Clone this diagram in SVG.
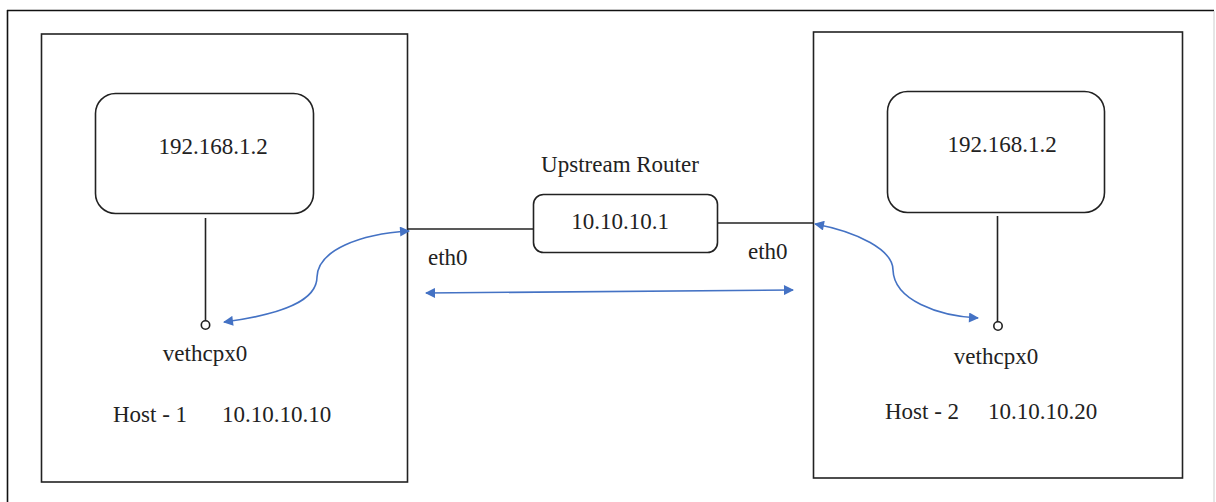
<svg xmlns="http://www.w3.org/2000/svg" width="1216" height="502" viewBox="0 0 1216 502">
<style>
.box{fill:#fff;stroke:#222;stroke-width:1.6}
.ln{fill:none;stroke:#222;stroke-width:1.6}
.blue{fill:none;stroke:#4472C4;stroke-width:1.6}
text{font-family:"Liberation Serif","Times New Roman",serif;font-size:23px;fill:#222}
.c{text-anchor:middle}
</style>
<defs>
<marker id="ah" viewBox="0 0 10 10" refX="9" refY="5" markerWidth="14" markerHeight="10" markerUnits="userSpaceOnUse" orient="auto-start-reverse">
<path d="M0,0 L10,5 L0,10 z" fill="#4472C4"/>
</marker>
</defs>
<rect width="1216" height="502" fill="#fff"/>
<g id="frame">
<line x1="7.5" y1="10" x2="7.5" y2="502" stroke="#111" stroke-width="1.6"/>
<line x1="7" y1="10.5" x2="1214" y2="10.5" stroke="#111" stroke-width="1.6"/>
<line x1="1214" y1="11" x2="1214" y2="502" stroke="#ccc" stroke-width="1"/>
</g>
<g id="host1">
<rect class="box" x="41.5" y="34" width="366" height="448"/>
<text x="113" y="422">Host - 1</text>
<text x="222" y="422">10.10.10.10</text>
</g>
<g id="container1">
<rect class="box" x="95.5" y="93.5" width="218" height="120" rx="20"/>
<text class="c" x="213" y="154">192.168.1.2</text>
</g>
<g id="veth1">
<circle cx="205.5" cy="325" r="4.2" fill="#fff" stroke="#222" stroke-width="1.6"/>
<text class="c" x="205" y="361">vethcpx0</text>
</g>
<g id="host2">
<rect class="box" x="813.5" y="32" width="369" height="446"/>
<text x="885" y="419">Host - 2</text>
<text x="988" y="419">10.10.10.20</text>
</g>
<g id="container2">
<rect class="box" x="887.5" y="91.5" width="217" height="121" rx="20"/>
<text class="c" x="1002" y="152">192.168.1.2</text>
</g>
<g id="veth2">
<circle cx="998" cy="326" r="4.2" fill="#fff" stroke="#222" stroke-width="1.6"/>
<text class="c" x="996" y="364">vethcpx0</text>
</g>
<g id="router">
<text class="c" x="620" y="172">Upstream Router</text>
<rect class="box" x="533.5" y="194.5" width="184" height="58" rx="10"/>
<text class="c" x="620" y="229">10.10.10.1</text>
</g>
<g id="labels">
<text x="428" y="265">eth0</text>
<text x="748" y="259">eth0</text>
</g>
<g id="connectors">
<line class="ln" x1="205.5" y1="218" x2="205.5" y2="321"/>
<line class="ln" x1="997.5" y1="216" x2="997.5" y2="322"/>
<line class="ln" x1="407" y1="229" x2="533" y2="229"/>
<line class="ln" x1="717" y1="223" x2="813" y2="223"/>
<path class="blue" marker-start="url(#ah)" marker-end="url(#ah)" d="M224,322 C285,314 317,300 317,277 C318,250 360,234 409,231"/>
<path class="blue" marker-start="url(#ah)" marker-end="url(#ah)" d="M815,224 C858,232 893,250 893,270 C894,300 938,316 978,318"/>
<path class="blue" marker-start="url(#ah)" marker-end="url(#ah)" d="M426,293 L793,290"/>
</g>
</svg>
